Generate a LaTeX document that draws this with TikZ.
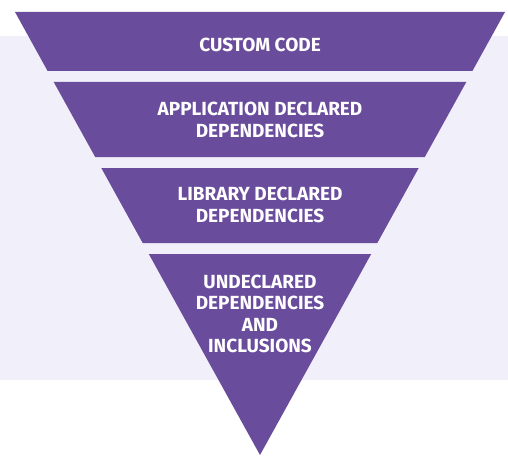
\documentclass[tikz,border=0pt]{standalone}
\usepackage{fontspec}
\setmainfont{Fira Sans}
\definecolor{pyr}{HTML}{6A4C9C}
\definecolor{bgl}{HTML}{F1EFF9}
\begin{document}
\begin{tikzpicture}[x=1pt,y=1pt,
  seg/.style={fill=pyr,draw=none},
  lbl/.style={text=white,font=\bfseries\fontsize{19}{21.5}\selectfont,align=center,inner sep=0pt}]
\useasboundingbox (0,0) rectangle (508,456);
\fill[bgl] (0,76) rectangle (508,420);
% segments (y measured from bottom: 456 - y_img)
\fill[seg] (15,444) -- (505,444) -- (472.4,385) -- (47.6,385) -- cycle;
\fill[seg] (53.7,374) -- (466.3,374) -- (424.8,299) -- (95.2,299) -- cycle;
\fill[seg] (101.3,288) -- (418.7,288) -- (377.3,213) -- (142.7,213) -- cycle;
\fill[seg] (148.8,202) -- (371.2,202) -- (260,1) -- cycle;
\node[lbl] (t1) at (260,411) {CUSTOM CODE};
\node[lbl] (t2) at (260,336) {APPLICATION DECLARED\\DEPENDENCIES};
\node[lbl] (t3) at (260,251) {LIBRARY DECLARED\\DEPENDENCIES};
\node[lbl] (t4) at (260,142) {UNDECLARED\\DEPENDENCIES\\AND\\INCLUSIONS};
\end{tikzpicture}
\end{document}
